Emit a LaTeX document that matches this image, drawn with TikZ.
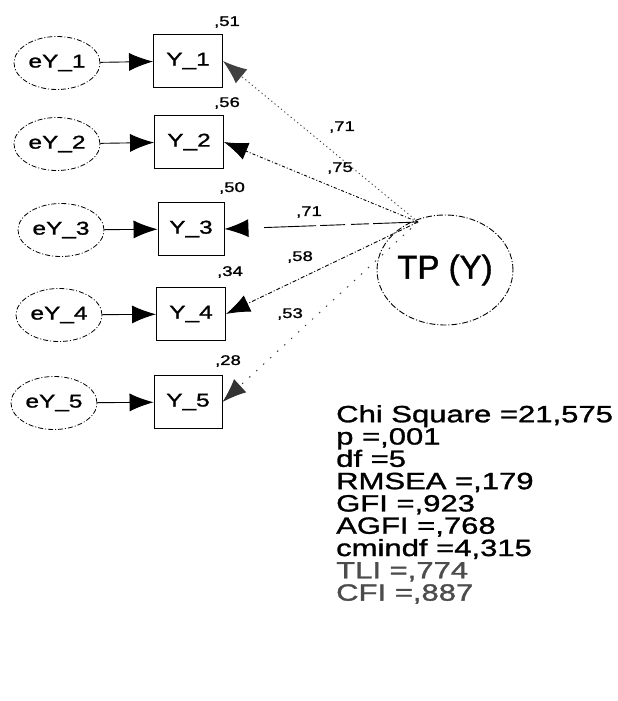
\documentclass[tikz,border=0pt]{standalone}
\usepackage{fontspec}
\setmainfont{Liberation Sans}[FakeStretch=1.32, FakeBold=1.3]
\newfontfamily\tpfont{Liberation Sans}[FakeBold=1.3]
\usetikzlibrary{arrows.meta,shapes.geometric}
\begin{document}
\begin{tikzpicture}[x=1pt,y=-1pt,
  obs/.style={draw, line width=0.9pt, minimum width=69pt, minimum height=53pt, inner sep=0pt, font=\fontsize{18.5}{20}\selectfont},
  err/.style={draw, ellipse, dash pattern=on 5pt off 2pt on 1pt off 2pt, line width=0.8pt, minimum width=86pt, minimum height=53pt, inner sep=0pt, font=\fontsize{18.5}{20}\selectfont},
  lat/.style={draw, ellipse, dash pattern=on 6pt off 2pt on 1pt off 2pt, line width=0.9pt, minimum width=136pt, minimum height=110pt, inner sep=0pt, font=\tpfont\fontsize{33}{35}\selectfont},
  coef/.style={inner sep=0pt, font=\fontsize{14}{16}\selectfont},
  tip/.style={-{Latex[length=24pt,width=18pt]}, line width=0.9pt},
  pa/.style={tip, black!75, dash pattern=on 1.2pt off 3pt},
  pb/.style={tip, dash pattern=on 3pt off 2pt on 1pt off 2pt},
  pc/.style={tip, dash pattern=on 45pt off 4pt on 18pt off 6pt on 25pt off 4pt on 52pt off 40pt},
  pd/.style={tip, dash pattern=on 4pt off 2pt on 1pt off 2pt},
  pe/.style={tip, black!80, dash pattern=on 1.5pt off 8pt}
]
\useasboundingbox[fill=white] (0,0) rectangle (618,701);

% error terms
\node[err] (e1) at (57,63) {eY\_1};
\node[err] (e2) at (57,144) {eY\_2};
\node[err] (e3) at (61,230) {eY\_3};
\node[err] (e4) at (59,315) {eY\_4};
\node[err] (e5) at (54,403) {eY\_5};

% observed
\node[obs] (y1) at (188,61) {Y\_1};
\node[obs] (y2) at (189,142) {Y\_2};
\node[obs, minimum width=66pt] (y3) at (191,229) {Y\_3};
\node[obs] (y4) at (191,314) {Y\_4};
\node[obs, minimum width=68pt] (y5) at (188,402) {Y\_5};

% latent
\node[lat] (tp) at (445,270) {TP (Y)};
\coordinate (c) at (418,222);

% error arrows
\draw[tip] (e1) -- (y1);
\draw[tip] (e2) -- (y2);
\draw[tip] (e3) -- (y3);
\draw[tip] (e4) -- (y4);
\draw[tip] (e5) -- (y5);

% loadings
\draw[pa] (c) -- (y1.east);
\draw[pb] (c) -- (y2.east);
\draw[pc] (c) -- (y3.east);
\draw[pd] (c) -- (y4.east);
\draw[pe] (c) -- (y5.east);

% squared multiple correlations
\node[coef] (r1) at (227,22) {,51};
\node[coef] (r2) at (227,103) {,56};
\node[coef] (r3) at (232,188) {,50};
\node[coef] (r4) at (230,272) {,34};
\node[coef] (r5) at (228,361) {,28};

% loading labels
\node[coef] (l1) at (342,127) {,71};
\node[coef] (l2) at (340,168) {,75};
\node[coef] (l3) at (309,212) {,71};
\node[coef] (l4) at (300,257) {,58};
\node[coef] (l5) at (290,314) {,53};

% fit statistics
\node[anchor=north west, inner sep=0pt, align=left, font=\fontsize{23.5}{22.3}\selectfont] (fit) at (336,405)
{Chi Square =21,575\\ p =,001\\ df =5\\ RMSEA =,179\\ GFI =,923\\ AGFI =,768\\ cmindf =4,315\\ \textcolor{black!70}{TLI =,774}\\ \textcolor{black!70}{CFI =,887}};
\end{tikzpicture}
\end{document}
